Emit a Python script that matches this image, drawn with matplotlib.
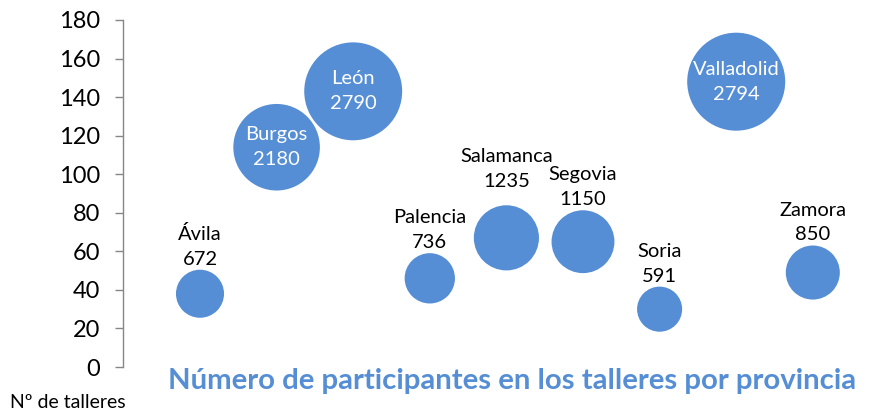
import numpy as np
import matplotlib
matplotlib.use("Agg")
import matplotlib.pyplot as plt

plt.rcParams['font.family'] = ['Lato', 'DejaVu Sans']

# datos
provincias = ["Ávila", "Burgos", "León", "Palencia", "Salamanca",
              "Segovia", "Soria", "Valladolid", "Zamora"]
talleres = [38, 114, 143, 46, 67, 65, 30, 148, 49]
participantes = [672, 2180, 2790, 736, 1235, 1150, 591, 2794, 850]

azul = '#558ED5'
gris = '#868686'
dentro = ["Burgos", "León", "Valladolid"]  # etiquetas en blanco dentro de la burbuja

fig = plt.figure(figsize=(8.75, 4.11), dpi=100)
W, H = 875, 411
x0 = 123.4
paso = 76.6
ax = fig.add_axes([x0 / W, 44 / H, 9.6 * paso / W, 347 / H])

xs = np.arange(1, len(provincias) + 1)
# area proporcional a participantes (diametro ~98 px para el maximo)
diam_pt = 98 * 0.72
escala = diam_pt ** 2 / max(participantes)
sizes = [p * escala for p in participantes]
ax.scatter(xs, talleres, s=sizes, color=azul, edgecolors='none', zorder=2, clip_on=False)

for x, y, nom, p, s in zip(xs, talleres, provincias, participantes, sizes):
	txt = f"{nom}\n{p}"
	if nom in dentro:
		ax.annotate(txt, (x, y), ha='center', va='center', color='white',
		            fontsize=14.5, linespacing=1.55)
	else:
		r = np.sqrt(s) / 2
		extra = 11 if nom == "Salamanca" else 1.5
		ax.annotate(txt, (x, y), xytext=(0, r + extra), textcoords='offset points',
		            ha='center', va='bottom', color='black', fontsize=14.5, linespacing=1.55)

ax.set_xlim(0, 9.6)
ax.set_ylim(0, 180)
ax.set_yticks(np.arange(0, 181, 20))
ax.set_xticks([])
ax.tick_params(axis='y', length=6, width=1, color=gris, pad=11, labelsize=17)

for pos in ['right', 'top', 'bottom']:
	ax.spines[pos].set_visible(False)
ax.spines['left'].set_color(gris)
ax.spines['left'].set_linewidth(1)
ax.patch.set_alpha(0)

fig.text(168 / W, 1 - 381 / H, "Número de participantes en los talleres por provincia",
         ha='left', va='center', fontsize=21.2, fontweight='bold', color=azul)
fig.text(10 / W, 1 - 402 / H, "Nº de talleres", ha='left', va='center', fontsize=14)

plt.savefig("out.png", dpi=100)
